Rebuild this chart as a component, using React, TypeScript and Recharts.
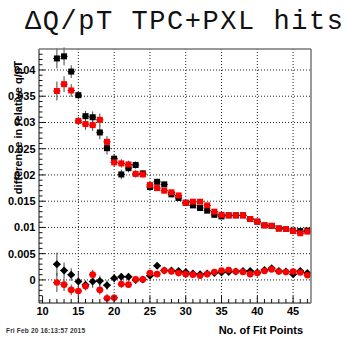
import React from "react";
import { ScatterChart, Scatter, XAxis, YAxis, CartesianGrid, ErrorBar } from "recharts";

// ---- data ----
const fitPoints = [12,13,14,15,16,17,18,19,20,21,22,23,24,25,26,27,28,29,30,31,32,33,34,35,36,37,38,39,40,41,42,43,44,45,46,47];

const blackUpper = [0.0422,0.0426,0.0397,0.0352,0.0312,0.0310,0.0281,0.0251,0.0231,0.0201,0.0213,0.0219,0.0203,0.0177,0.0187,0.0182,0.0163,0.0156,0.0147,0.0142,0.0137,0.0132,0.0124,0.0121,0.0123,0.0123,0.0123,0.0116,0.0111,0.0104,0.0103,0.0098,0.0097,0.0094,0.0093,0.0094];
const blackUpperErr = [0.0019,0.0017,0.0012,0.0008,0.0010,0.0011,0.0013,0.0012,0.0009,0.0009,0.0008,0.0007,0.0006,0.0006,0.0005,0.0005,0.0004,0.0004,0.0004,0.0004,0.0004,0.0003,0.0003,0.0003,0.0003,0.0003,0.0003,0.0003,0.0003,0.0003,0.0003,0.0003,0.0003,0.0003,0.0003,0.0003];

const redUpper = [0.0360,0.0373,0.0361,0.0303,0.0297,0.0295,0.0305,0.0263,0.0224,0.0222,0.0220,0.0202,0.0201,0.0181,0.0175,0.0170,0.0167,0.0161,0.0147,0.0149,0.0149,0.0142,0.0130,0.0124,0.0123,0.0123,0.0123,0.0116,0.0111,0.0104,0.0103,0.0098,0.0097,0.0093,0.0089,0.0092];
const redUpperErr = [0.0018,0.0015,0.0012,0.0008,0.0011,0.0011,0.0012,0.0011,0.0008,0.0008,0.0007,0.0007,0.0006,0.0005,0.0005,0.0004,0.0004,0.0004,0.0004,0.0004,0.0003,0.0003,0.0003,0.0003,0.0003,0.0003,0.0003,0.0003,0.0003,0.0003,0.0003,0.0003,0.0003,0.0003,0.0003,0.0003];

const blackLower = [0.0030,0.0018,0.0010,-0.0003,-0.0009,-0.0003,-0.0002,-0.0010,0.0003,0.0006,0.0006,0.0000,0.0001,0.0008,0.0027,0.0018,0.0018,0.0017,0.0015,0.0012,0.0011,0.0012,0.0013,0.0014,0.0015,0.0016,0.0017,0.0017,0.0014,0.0019,0.0022,0.0017,0.0016,0.0011,0.0017,0.0013];
const blackLowerErr = [0.0022,0.0015,0.0012,0.0020,0.0008,0.0012,0.0010,0.0009,0.0008,0.0007,0.0007,0.0006,0.0006,0.0005,0.0005,0.0004,0.0004,0.0004,0.0004,0.0004,0.0003,0.0003,0.0003,0.0003,0.0003,0.0003,0.0003,0.0003,0.0003,0.0003,0.0003,0.0003,0.0003,0.0003,0.0003,0.0003];

const redLower = [-0.0005,-0.0009,-0.0019,-0.0021,-0.0012,0.0010,-0.0019,-0.0035,-0.0034,-0.0008,-0.0009,0.0001,0.0001,0.0013,0.0011,0.0018,0.0016,0.0013,0.0011,0.0010,0.0008,0.0011,0.0015,0.0018,0.0019,0.0016,0.0015,0.0011,0.0013,0.0017,0.0020,0.0016,0.0015,0.0016,0.0014,0.0009];
const redLowerErr = [0.0018,0.0012,0.0010,0.0010,0.0008,0.0009,0.0009,0.0008,0.0007,0.0007,0.0006,0.0006,0.0005,0.0005,0.0005,0.0004,0.0004,0.0004,0.0004,0.0004,0.0003,0.0003,0.0003,0.0003,0.0003,0.0003,0.0003,0.0003,0.0003,0.0003,0.0003,0.0003,0.0003,0.0003,0.0003,0.0003];

const binHalfWidth = 0.5;

const xMajorTicks = [15, 20, 25, 30, 35, 40, 45];
const xTicks = [10,11,12,13,14,15,16,17,18,19,20,21,22,23,24,25,26,27,28,29,30,31,32,33,34,35,36,37,38,39,40,41,42,43,44,45,46,47];
const yMajorTicks = [0, 0.005, 0.01, 0.015, 0.02, 0.025, 0.03, 0.035, 0.04];
const yTicks = Array.from({ length: 48 }, (_, i) => Math.round((-0.004 + i * 0.001) * 10000) / 10000);

const X_DOMAIN = [9.5, 47.5];
const Y_DOMAIN = [-0.0044, 0.044];

const TITLE = "\u0394Q/pT TPC+PXL hits";
const Y_TITLE = "difference in relative q/pT";
const X_TITLE = "No. of Fit Points";
const FOOTER = "Fri Feb 20 16:13:57 2015";

// ---- layout ----
const W = 346;
const H = 337;
const PLOT_LEFT = 39;
const PLOT_RIGHT = 311;
const PLOT_TOP = 49;
const PLOT_BOTTOM = 303;
const FONT = "'Liberation Sans', Arial, sans-serif";

const build = (vals: number[], errs: number[]) =>
  fitPoints.map((x, i) => ({ x, y: vals[i], ey: errs[i], ex: binHalfWidth }));

const isMajor = (v: number, step: number) => Math.abs(v / step - Math.round(v / step)) < 1e-6;

const YTick = (p: any) => {
  const v = p.payload.value;
  const major = isMajor(v, 0.005);
  const y = p.y;
  return (
    <g>
      <line x1={PLOT_LEFT} x2={PLOT_LEFT + (major ? 6 : 3.5)} y1={y} y2={y} stroke="#111" strokeWidth={1} />
      {major && (
        <text x={35.5} y={y + 4} textAnchor="end" fontFamily={FONT} fontWeight="bold" fontSize={11} fill="#000">
          {String(Math.round(v * 1000) / 1000)}
        </text>
      )}
    </g>
  );
};

const XTick = (p: any) => {
  const v = p.payload.value;
  const major = isMajor(v, 5);
  const x = p.x;
  return (
    <g>
      <line x1={x} x2={x} y1={PLOT_BOTTOM} y2={PLOT_BOTTOM - (major ? 7 : 4)} stroke="#111" strokeWidth={1} />
      {major && (
        <text x={x} y={315} textAnchor="middle" fontFamily={FONT} fontWeight="bold" fontSize={11} fill="#000">
          {String(v)}
        </text>
      )}
    </g>
  );
};

const square = (color: string) => (p: any) => (
  <rect x={p.cx - 3} y={p.cy - 3} width={6} height={6} fill={color} />
);
const diamond = (color: string) => (p: any) => (
  <path d={`M${p.cx},${p.cy - 4} L${p.cx + 4},${p.cy} L${p.cx},${p.cy + 4} L${p.cx - 4},${p.cy} Z`} fill={color} />
);
const circle = (color: string) => (p: any) => <circle cx={p.cx} cy={p.cy} r={3.3} fill={color} />;

const ERR = "#444";

export default function App() {
  return (
    <div style={{ position: "absolute", left: 0, top: 0, width: W, height: H, background: "#fff" }}>
      <ScatterChart
        width={W}
        height={H}
        margin={{ top: PLOT_TOP, right: W - PLOT_RIGHT, bottom: 0, left: 0 }}
      >
        <CartesianGrid
          stroke="#222"
          strokeDasharray="1 2"
          horizontalValues={yMajorTicks}
          verticalValues={xMajorTicks}
        />
        <XAxis
          type="number"
          dataKey="x"
          domain={X_DOMAIN}
          ticks={xTicks}
          interval={0}
          height={H - PLOT_BOTTOM}
          tickLine={false}
          axisLine={{ stroke: "#111" }}
          tick={<XTick />}
          allowDataOverflow
        />
        <YAxis
          type="number"
          dataKey="y"
          domain={Y_DOMAIN}
          ticks={yTicks}
          interval={0}
          width={PLOT_LEFT}
          tickLine={false}
          axisLine={{ stroke: "#111" }}
          tick={<YTick />}
          allowDataOverflow
        />
        <Scatter data={build(blackUpper, blackUpperErr)} shape={square("#000")} isAnimationActive={false}>
          <ErrorBar dataKey="ey" direction="y" width={0} stroke={ERR} strokeWidth={1} />
          <ErrorBar dataKey="ex" direction="x" width={0} stroke="#000" strokeWidth={1} />
        </Scatter>
        <Scatter data={build(redUpper, redUpperErr)} shape={square("#ff0000")} isAnimationActive={false}>
          <ErrorBar dataKey="ey" direction="y" width={0} stroke={ERR} strokeWidth={1} />
          <ErrorBar dataKey="ex" direction="x" width={0} stroke="#000" strokeWidth={1} />
        </Scatter>
        <Scatter data={build(blackLower, blackLowerErr)} shape={diamond("#000")} isAnimationActive={false}>
          <ErrorBar dataKey="ey" direction="y" width={0} stroke={ERR} strokeWidth={1} />
          <ErrorBar dataKey="ex" direction="x" width={0} stroke="#000" strokeWidth={1} />
        </Scatter>
        <Scatter data={build(redLower, redLowerErr)} shape={circle("#ff0000")} isAnimationActive={false}>
          <ErrorBar dataKey="ey" direction="y" width={0} stroke={ERR} strokeWidth={1} />
          <ErrorBar dataKey="ex" direction="x" width={0} stroke="#000" strokeWidth={1} />
        </Scatter>
      </ScatterChart>
      <svg
        width={W}
        height={H}
        style={{ position: "absolute", left: 0, top: 0, pointerEvents: "none" }}
      >
        <line x1={PLOT_LEFT} x2={PLOT_RIGHT} y1={PLOT_TOP} y2={PLOT_TOP} stroke="#777" strokeWidth={1.5} />
        <line x1={PLOT_RIGHT} x2={PLOT_RIGHT} y1={PLOT_TOP} y2={PLOT_BOTTOM} stroke="#777" strokeWidth={1.5} />
        <text
          x={25}
          y={28.5}
          fontFamily="'Liberation Mono', 'Courier New', monospace"
          fontSize={27}
          fill="#111"
          textLength={318}
          lengthAdjust="spacing"
        >
          {TITLE}
        </text>
        <text
          x={21.5}
          y={127.5}
          transform="rotate(-90 21.5 127.5)"
          textAnchor="middle"
          fontFamily={FONT}
          fontWeight="bold"
          fontSize={11}
          fill="#000"
        >
          {Y_TITLE}
        </text>
        <text x={303} y={334} textAnchor="end" fontFamily={FONT} fontWeight="bold" fontSize={11} fill="#000">
          {X_TITLE}
        </text>
        <text x={6} y={333} fontFamily={FONT} fontWeight="bold" fontSize={6.5} fill="#333" textLength={79}>
          {FOOTER}
        </text>
      </svg>
    </div>
  );
}
